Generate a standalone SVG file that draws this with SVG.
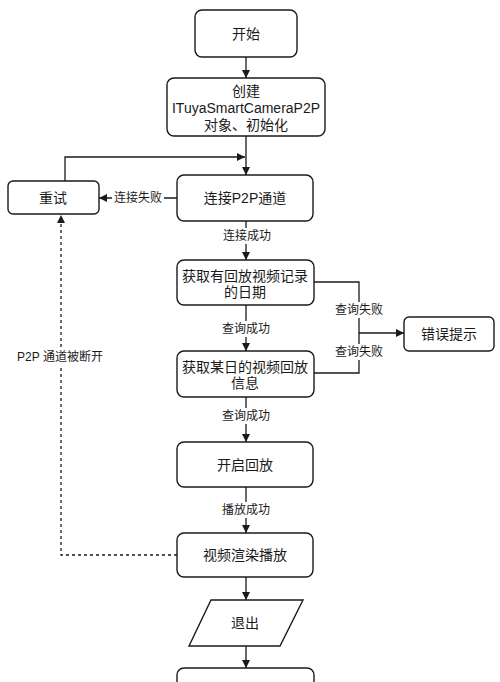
<svg xmlns="http://www.w3.org/2000/svg" width="500" height="682" viewBox="0 0 500 682">
<style>
.n{fill:#fff;stroke:#1a1a1a;stroke-width:1.4}
.t{font-family:"Liberation Sans","Noto Sans CJK SC",sans-serif;font-size:14px;fill:#1a1a1a;text-anchor:middle;dominant-baseline:central}
.l{font-family:"Liberation Sans","Noto Sans CJK SC",sans-serif;font-size:12px;fill:#1a1a1a;text-anchor:middle;dominant-baseline:central}
.e{fill:none;stroke:#1a1a1a;stroke-width:1.3}
.d{stroke-dasharray:3,3}
.bg{fill:#fff}
</style>
<defs>
<marker id="a" viewBox="0 0 10 10" refX="10" refY="5" markerWidth="8" markerHeight="8" markerUnits="userSpaceOnUse" orient="auto">
<path d="M0,0 L10,5 L0,10 Z" fill="#1a1a1a"/>
</marker>
</defs>
<rect width="500" height="682" fill="#fff"/>
<g id="connectors">
<path class="e" d="M246,57 V78" marker-end="url(#a)"/>
<path class="e" d="M246,136 V175" marker-end="url(#a)"/>
<path class="e" d="M65,181 V157 H245" marker-end="url(#a)"/>
<path class="e" d="M177,198 H99" marker-end="url(#a)"/>
<path class="e" d="M246,221 V260" marker-end="url(#a)"/>
<path class="e" d="M246,305 V351" marker-end="url(#a)"/>
<path class="e" d="M314,282 H359 V333 H404" marker-end="url(#a)"/>
<path class="e" d="M314,373 H359 V333"/>
<path class="e" d="M246,397 V442" marker-end="url(#a)"/>
<path class="e" d="M246,487 V533" marker-end="url(#a)"/>
<path class="e d" d="M177,555 H61 V215" marker-end="url(#a)"/>
<path class="e" d="M246,577 V600" marker-end="url(#a)"/>
<path class="e" d="M246,646 V668" marker-end="url(#a)"/>
<rect class="bg" x="112" y="190" width="52" height="16"/>
<text class="l" x="138" y="198">连接失败</text>
<rect class="bg" x="222" y="228" width="50" height="16"/>
<text class="l" x="247" y="236">连接成功</text>
<rect class="bg" x="221" y="321" width="50" height="16"/>
<text class="l" x="246" y="329">查询成功</text>
<rect class="bg" x="333" y="302" width="52" height="16"/>
<text class="l" x="359" y="310">查询失败</text>
<rect class="bg" x="333" y="344" width="52" height="16"/>
<text class="l" x="359" y="352">查询失败</text>
<rect class="bg" x="221" y="408" width="50" height="16"/>
<text class="l" x="246" y="416">查询成功</text>
<rect class="bg" x="221" y="502" width="50" height="16"/>
<text class="l" x="246" y="510">播放成功</text>
<rect class="bg" x="14" y="349" width="92" height="16"/>
<text class="l" x="60" y="357">P2P 通道被断开</text>
</g>
<g id="start"><rect class="n" x="195" y="10" width="102" height="47" rx="7"/><text class="t" x="246" y="34">开始</text></g>
<g id="create"><rect class="n" x="167" y="78" width="158" height="58" rx="7"/><text class="t" x="246" y="91">创建</text><text class="t" x="246" y="108">ITuyaSmartCameraP2P</text><text class="t" x="246" y="125">对象、初始化</text></g>
<g id="retry"><rect class="n" x="8" y="181" width="91" height="33" rx="5"/><text class="t" x="53" y="198">重试</text></g>
<g id="connect"><rect class="n" x="177" y="175" width="136" height="46" rx="7"/><text class="t" x="245" y="198">连接P2P通道</text></g>
<g id="dates"><rect class="n" x="177" y="260" width="137" height="45" rx="7"/><text class="t" x="245" y="276">获取有回放视频记录</text><text class="t" x="245" y="292">的日期</text></g>
<g id="error"><rect class="n" x="404" y="317" width="90" height="34" rx="5"/><text class="t" x="449" y="334">错误提示</text></g>
<g id="info"><rect class="n" x="177" y="351" width="137" height="46" rx="7"/><text class="t" x="245" y="367">获取某日的视频回放</text><text class="t" x="245" y="383">信息</text></g>
<g id="playback"><rect class="n" x="177" y="442" width="136" height="45" rx="7"/><text class="t" x="245" y="465">开启回放</text></g>
<g id="render"><rect class="n" x="177" y="533" width="136" height="44" rx="7"/><text class="t" x="245" y="555">视频渲染播放</text></g>
<g id="exit"><path class="n" d="M211,600 H303 L280,646 H189 Z"/><text class="t" x="245" y="623">退出</text></g>
<g id="end"><rect class="n" x="177" y="668" width="137" height="46" rx="7"/></g>
</svg>
